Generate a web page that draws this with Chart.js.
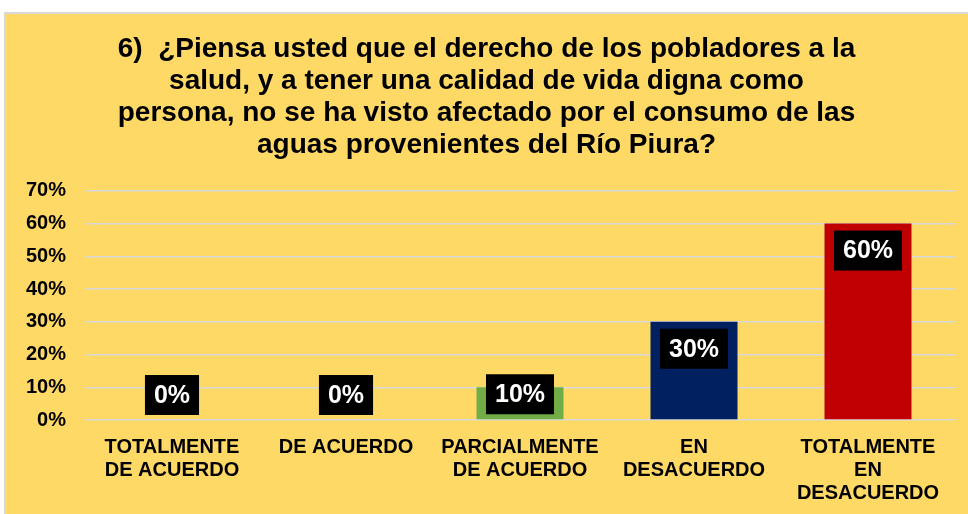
<!DOCTYPE html>
<html lang="es">
<head>
<meta charset="UTF-8">
<title>Derecho a la salud</title>
<style>
    body {
        margin: 0;
        background: #ffffff;
        overflow: hidden;
        font-family: "Liberation Sans", Arial, sans-serif;
    }
    .panel {
        position: absolute;
        left: 4px;
        top: 12px;
        width: 962px;
        height: 500px;
        border: 2px solid #d9d9d9;
        background: #ffd966;
    }
</style>
</head>
<body>
<div class="panel">
    <canvas id="chart"></canvas>
</div>
<script src="https://cdn.jsdelivr.net/npm/chart.js"></script>
<script>
const titleLines = [
    '6)  ¿Piensa usted que el derecho de los pobladores a la',
    'salud, y a tener una calidad de vida digna como',
    'persona, no se ha visto afectado por el consumo de las',
    'aguas provenientes del Río Piura?'
];
const categories = [
    ['TOTALMENTE', 'DE ACUERDO'],
    'DE ACUERDO',
    ['PARCIALMENTE', 'DE ACUERDO'],
    ['EN', 'DESACUERDO'],
    ['TOTALMENTE', 'EN', 'DESACUERDO']
];
const values = [0, 0, 10, 30, 60];
const barColors = ['#4472c4', '#ed7d31', '#70ad47', '#002060', '#c00000'];
const yTicks = [0, 10, 20, 30, 40, 50, 60, 70];

const FONT = '"Liberation Sans", Arial, sans-serif';

// black boxed labels near the top of each bar, like the Excel version
const boxLabels = {
    id: 'boxLabels',
    afterDatasetsDraw(chart) {
        const ctx = chart.ctx;
        const meta = chart.getDatasetMeta(0);
        ctx.save();
        ctx.font = 'bold 25px ' + FONT;
        ctx.textAlign = 'center';
        ctx.textBaseline = 'middle';
        meta.data.forEach((bar, i) => {
            const text = values[i] + '%';
            const w = ctx.measureText(text).width + 18;
            const h = 40;
            const top = Math.min(bar.y + 7, bar.base - 45);
            ctx.fillStyle = '#000000';
            ctx.fillRect(bar.x - w / 2, top, w, h);
            ctx.fillStyle = '#ffffff';
            ctx.fillText(text, bar.x, top + h / 2 + 1);
        });
        ctx.restore();
    }
};

new Chart(document.getElementById('chart'), {
    type: 'bar',
    data: {
        labels: categories,
        datasets: [{
            data: values,
            backgroundColor: barColors,
            categoryPercentage: 1,
            barPercentage: 0.5
        }]
    },
    options: {
        responsive: true,
        maintainAspectRatio: false,
        animation: false,
        layout: { padding: { left: 12, right: 13, top: 0, bottom: 0 } },
        plugins: {
            legend: { display: false },
            tooltip: { enabled: false },
            title: {
                display: true,
                text: titleLines,
                color: '#000000',
                font: { family: FONT, size: 28, weight: 'bold', lineHeight: 1.15 },
                padding: { top: 19, bottom: 29 }
            }
        },
        scales: {
            x: {
                grid: { display: false },
                border: { display: false },
                ticks: {
                    color: '#000000',
                    maxRotation: 0,
                    autoSkip: false,
                    padding: 8,
                    font: { family: FONT, size: 20, weight: 'bold', lineHeight: 1.15 }
                },
                afterFit(scale) { scale.height = 94; }
            },
            y: {
                min: 0,
                max: 70,
                afterBuildTicks(scale) { scale.ticks = yTicks.map(v => ({ value: v })); },
                grid: { color: '#d9d9d9', lineWidth: 1.5, drawTicks: false },
                border: { display: false },
                ticks: {
                    color: '#000000',
                    padding: 19,
                    font: { family: FONT, size: 20, weight: 'bold' },
                    callback: v => v + '%'
                },
                afterFit(scale) { scale.width = 67; }
            }
        }
    },
    plugins: [boxLabels]
});
</script>
</body>
</html>
